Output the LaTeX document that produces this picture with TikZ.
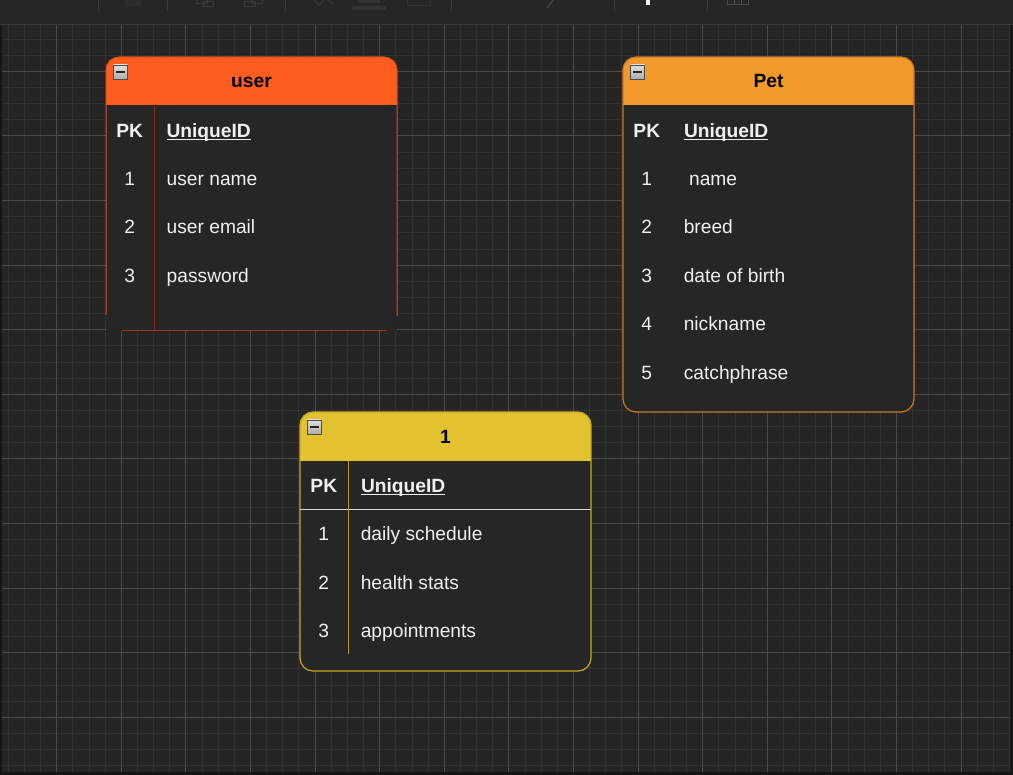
\documentclass[tikz,border=0pt]{standalone}
\usepackage{fontspec}
\setmainfont{Liberation Sans}
\definecolor{bgdark}{HTML}{161616}
\definecolor{toolbar}{HTML}{262626}
\definecolor{tbline}{HTML}{3A3A3A}
\definecolor{canvas}{HTML}{252525}
\definecolor{gridmin}{HTML}{323232}
\definecolor{gridmaj}{HTML}{4C4C4C}
\definecolor{bodyfill}{HTML}{262626}
\definecolor{txt}{HTML}{F0F0F0}
\definecolor{userhead}{HTML}{FF5C1F}
\definecolor{userline}{HTML}{D9501C}
\definecolor{userdiv}{HTML}{7E2C16}
\definecolor{pethead}{HTML}{F09A2C}
\definecolor{petline}{HTML}{CC7A22}
\definecolor{onehead}{HTML}{E2C22F}
\definecolor{oneline}{HTML}{C9A820}
\definecolor{onediv}{HTML}{B8961E}
\definecolor{sepwhite}{HTML}{D8D8D8}
\newcommand\erow[5]{%
  \node[numtext] (#1n) at (#2,#4) {#3};
  \node[fieldtext] (#1t) at (#2+37,#4) {#5};
}
\begin{document}
\begin{tikzpicture}[x=1pt,y=-1pt,
  every node/.style={inner sep=0pt,outer sep=0pt,font=\fontsize{19.2}{23}\selectfont},
  mingrid/.style={draw=gridmin,line width=1pt},
  majgrid/.style={draw=gridmaj,line width=1pt},
  tbsep/.style={draw=tbline,line width=1pt},
  numtext/.style={text=txt,anchor=base},
  fieldtext/.style={text=txt,anchor=base west},
  headtext/.style={text=black,anchor=base,font=\fontsize{19.2}{23}\selectfont\bfseries},
  keyline/.style={draw=txt,line width=1.7pt},
  iconbox/.style={draw=gray!60!black,line width=0.8pt,top color=gray!25,bottom color=gray!65},
  iconbar/.style={draw=black!85,line width=2pt}
]
\useasboundingbox (0,0) rectangle (1013,775);
% backgrounds
\fill[bgdark] (0,0) rectangle (1013,775);
\fill[toolbar] (0,0) rectangle (1013,25);
\fill[canvas] (2,25.5) rectangle (1010,772);
\draw[tbline,line width=1pt] (0,25) -- (1013,25);
% grid
\begin{scope}
\clip (2,25.5) rectangle (1010,772);
\foreach \i in {0,...,62} {\pgfmathsetmacro\gx{8.25+16.15*\i}\draw[mingrid] (\gx,25.5) -- (\gx,772);}
\foreach \i in {0,...,45} {\pgfmathsetmacro\gy{39.1+16.15*\i}\draw[mingrid] (2,\gy) -- (1010,\gy);}
\foreach \i in {0,...,14} {\pgfmathsetmacro\gx{56.7+64.6*\i}\draw[majgrid] (\gx,25.5) -- (\gx,772);}
\foreach \i in {0,...,10} {\pgfmathsetmacro\gy{71.4+64.6*\i}\draw[majgrid] (2,\gy) -- (1010,\gy);}
\end{scope}
% toolbar icons (cut off at the top edge)
\foreach \sx in {98,167,285.5,451,614,707} {\draw[tbsep] (\sx,0) -- (\sx,11);}
\fill[gray!35!black] (126,0) rectangle (141,6);
\draw[gray!45!black,line width=1pt] (196,0) rectangle (207,4) (203,2) rectangle (213,7);
\draw[gray!45!black,line width=1pt] (252,0) rectangle (262,4) (244,2) rectangle (255,7);
\draw[gray!40!black,line width=1.5pt] (314,0) -- (319,5) -- (324,0) (328,0) -- (333,4);
\fill[gray!40!black] (358,0) rectangle (380,3);
\fill[gray!40!black] (352,6) rectangle (386,10);
\draw[gray!40!black,line width=1pt] (407,0) rectangle (430,6);
\draw[gray!55!black,line width=1.5pt] (547,8) -- (553,0);
\fill[white!94!black] (646,0) rectangle (650,5);
\draw[gray!60!black,line width=1pt] (727,0) rectangle (748,5) (734,0) -- (734,5) (741,0) -- (741,5);
% ---------------- user table
\fill[bodyfill] (106,105) rectangle (397,331);
\begin{scope}
\clip[rounded corners=13pt] (106,57) rectangle (397,140);
\fill[userhead] (106,57) rectangle (397,105);
\end{scope}
\draw[userline,line width=1pt,rounded corners=13pt] (106,315) -- (106,57) -- (397,57) -- (397,316);
\draw[userline!70!black,line width=1pt] (122,331) -- (387,331);
\draw[userdiv,line width=1pt] (154.3,105) -- (154.3,330);
\draw[iconbox] (113.3,65) rectangle (127.3,79);
\draw[iconbar] (116,72) -- (124.6,72);
\node[headtext] (userT) at (251.5,87.3) {user};
\node[numtext,font=\fontsize{19.2}{23}\selectfont\bfseries] (uPK) at (129.7,137.3) {PK};
\node[fieldtext,font=\fontsize{19.2}{23}\selectfont\bfseries] (uID) at (166.5,137.3) {UniqueID};
\draw[keyline] ([yshift=-2.2pt]uID.base west) -- ([yshift=-2.2pt]uID.base east);
\erow{u1}{129.7}{1}{185.5}{user name}
\erow{u2}{129.7}{2}{233.9}{user email}
\erow{u3}{129.7}{3}{282.3}{password}
% ---------------- Pet table
\fill[bodyfill,rounded corners=13pt] (623,57) rectangle (914,412);
\begin{scope}
\clip[rounded corners=13pt] (623,57) rectangle (914,412);
\fill[pethead] (623,57) rectangle (914,105);
\end{scope}
\draw[petline,line width=1.2pt,rounded corners=13pt] (623,57) rectangle (914,412);
\draw[iconbox] (630.7,65) rectangle (644.7,79);
\draw[iconbar] (633.4,72) -- (642,72);
\node[headtext] (petT) at (768.5,87.3) {Pet};
\node[numtext,font=\fontsize{19.2}{23}\selectfont\bfseries] (pPK) at (646.8,137.3) {PK};
\node[fieldtext,font=\fontsize{19.2}{23}\selectfont\bfseries] (pID) at (684,137.3) {UniqueID};
\draw[keyline] ([yshift=-2.2pt]pID.base west) -- ([yshift=-2.2pt]pID.base east);
\erow{p1}{646.8}{1}{185.5}{\ name}
\erow{p2}{646.8}{2}{233.9}{breed}
\erow{p3}{646.8}{3}{282.3}{date of birth}
\erow{p4}{646.8}{4}{330.7}{nickname}
\erow{p5}{646.8}{5}{379.1}{catchphrase}
% ---------------- 1 table
\fill[bodyfill,rounded corners=13pt] (300,412) rectangle (591,671);
\begin{scope}
\clip[rounded corners=13pt] (300,412) rectangle (591,671);
\fill[onehead] (300,412) rectangle (591,461);
\end{scope}
\draw[oneline,line width=1.2pt,rounded corners=13pt] (300,412) rectangle (591,671);
\draw[sepwhite,line width=1.5pt] (300,509.5) -- (591,509.5);
\draw[onediv,line width=1pt] (348.3,461) -- (348.3,654);
\draw[iconbox] (307.3,420) rectangle (321.5,434.2);
\draw[iconbar] (310,427.1) -- (318.8,427.1);
\node[headtext] (oneT) at (445.5,443.3) {1};
\node[numtext,font=\fontsize{19.2}{23}\selectfont\bfseries] (oPK) at (323.8,492.3) {PK};
\node[fieldtext,font=\fontsize{19.2}{23}\selectfont\bfseries] (oID) at (361,492.3) {UniqueID};
\draw[keyline] ([yshift=-2.2pt]oID.base west) -- ([yshift=-2.2pt]oID.base east);
\erow{o1}{323.8}{1}{540.7}{daily schedule}
\erow{o2}{323.8}{2}{589.1}{health stats}
\erow{o3}{323.8}{3}{637.5}{appointments}
\end{tikzpicture}
\end{document}
